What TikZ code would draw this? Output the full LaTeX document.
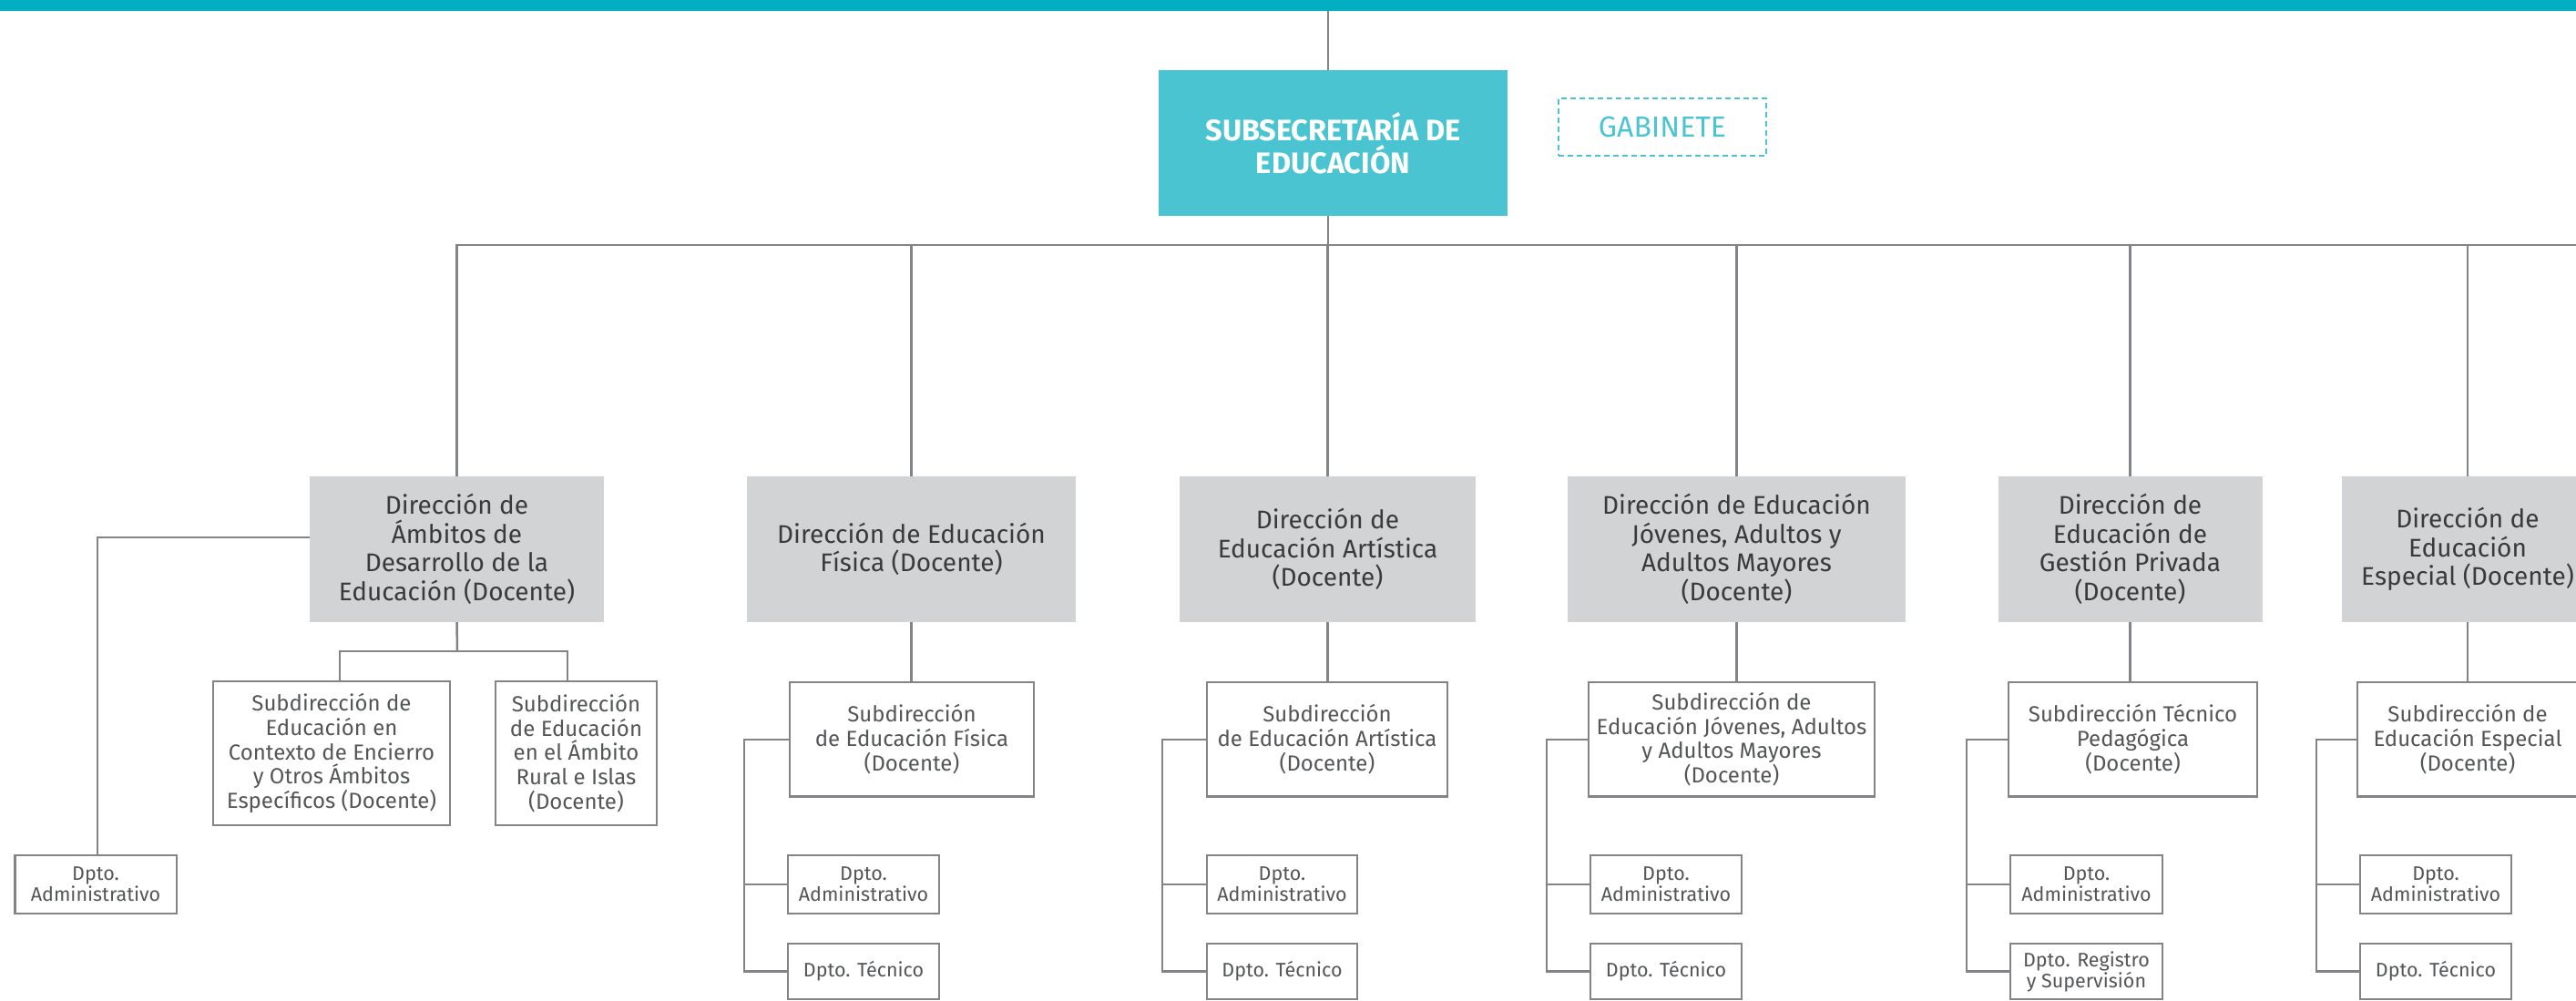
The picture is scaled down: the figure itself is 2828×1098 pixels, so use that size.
\documentclass[tikz,border=0pt]{standalone}
\usepackage{fontspec}
\setmainfont{Fira Sans}
\definecolor{barteal}{HTML}{00AFC2}
\definecolor{boxteal}{HTML}{4BC4D1}
\definecolor{boxgray}{HTML}{D1D3D4}
\definecolor{linegray}{HTML}{838487}
\definecolor{txtdark}{HTML}{3A3A3C}
\definecolor{txtmid}{HTML}{545557}
\tikzset{
  sz/.style 2 args={minimum width=#1pt, minimum height=#2pt},
  conn/.style={draw=linegray, line width=2.5pt},
  barnode/.style={fill=barteal, inner sep=0pt},
  subsec/.style={fill=boxteal, inner sep=0pt, align=center, text=white, font=\fontsize{32.5}{36}\selectfont\bfseries},
  gab/.style={draw=boxteal, line width=2pt, dash pattern=on 6pt off 4pt, inner sep=0pt, text=boxteal, font=\fontsize{32}{36}\selectfont},
  dirbox/.style={fill=boxgray, inner sep=0pt, align=center, text=txtdark, font=\fontsize{28}{31.6}\selectfont},
  subbox/.style={draw=linegray, line width=2.5pt, fill=white, inner sep=0pt, align=center, text=txtmid, font=\fontsize{24}{26.7}\selectfont},
  dptobox/.style={draw=linegray, line width=2.5pt, fill=white, inner sep=0pt, align=center, text=txtmid, font=\fontsize{21.5}{23}\selectfont},
}
\begin{document}
\begin{tikzpicture}[x=1pt, y=-1pt]
\useasboundingbox (0,0) rectangle (2828,1098);
% top
\node[barnode, anchor=north west, sz={2828}{12}] (bar) at (0,0) {};
\node[subsec, sz={383}{160}] (ss) at (1463.5,157) {SUBSECRETARÍA DE\\EDUCACIÓN};
\node[gab, sz={228}{63}] (gab) at (1825,139.5) {GABINETE};
\coordinate (mainx) at (1458,0);
\coordinate (busL) at (500,269);
\coordinate (busR) at (2828,269);
\draw[conn] (bar.south -| mainx) -- (ss.north -| mainx);
\draw[conn] (ss.south -| mainx) -- (busL -| mainx);
\draw[conn] (busL) -- (busR);
% direcciones
\node[dirbox, sz={323}{160}] (d1) at (501.5,603) {Dirección de\\Ámbitos de\\Desarrollo de la\\Educación (Docente)};
\node[dirbox, sz={361}{160}] (d2) at (1000.5,603) {Dirección de Educación\\Física (Docente)};
\node[dirbox, sz={325}{160}] (d3) at (1457.5,603) {Dirección de\\Educación Artística\\(Docente)};
\node[dirbox, sz={371}{160}] (d4) at (1906.5,603) {Dirección de Educación\\Jóvenes, Adultos y\\Adultos Mayores\\(Docente)};
\node[dirbox, sz={290}{160}] (d5) at (2338.5,603) {Dirección de\\Educación de\\Gestión Privada\\(Docente)};
\node[dirbox, sz={276}{160}] (d6) at (2709,603) {Dirección de\\Educación\\Especial (Docente)};
\foreach \d in {d1,d2,d3,d4,d5,d6}{
  \draw[conn] (\d.north) -- (\d.north |- busL);
}
% subdirecciones
\node[subbox, sz={260}{158}] (s1a) at (364,827) {Subdirección de\\Educación en\\Contexto de Encierro\\y Otros Ámbitos\\Específicos (Docente)};
\node[subbox, sz={177}{158}] (s1b) at (632.5,827) {Subdirección\\de Educación\\en el Ámbito\\Rural e Islas\\(Docente)};
\node[subbox, sz={268}{125.5}] (s2) at (1001,811.75) {Subdirección\\de Educación Física\\(Docente)};
\node[subbox, sz={264}{125.5}] (s3) at (1457,811.75) {Subdirección\\de Educación Artística\\(Docente)};
\node[subbox, sz={314}{125.5}] (s4) at (1901,811.75) {Subdirección de\\Educación Jóvenes, Adultos\\y Adultos Mayores\\(Docente)};
\node[subbox, sz={273}{125.5}] (s5) at (2341.5,811.75) {Subdirección Técnico\\Pedagógica\\(Docente)};
\node[subbox, sz={242}{125.5}] (s6) at (2709,811.75) {Subdirección de\\Educación Especial\\(Docente)};
\coordinate (j1) at (502,715);
\draw[conn] (d1.south) -- (j1);
\draw[conn] ([xshift=9pt]s1a.north) |- (j1) -| ([xshift=-9.5pt]s1b.north);
\foreach \i in {2,3,4,5,6}{
  \draw[conn] (d\i.south) -- (d\i.south |- s\i.north);
}
% departamentos
\node[dptobox, sz={177.5}{64}] (a1) at (105,971) {Dpto.\\Administrativo};
\draw[conn] ([yshift=13pt]d1.west) -| ([xshift=2pt]a1.north);
\node[dptobox, sz={166}{64}] (a2) at (948,971) {Dpto.\\Administrativo};
\node[dptobox, sz={166}{61}] (t2) at (948,1066.5) {Dpto. Técnico};
\node[dptobox, sz={165}{64}] (a3) at (1407.5,971) {Dpto.\\Administrativo};
\node[dptobox, sz={165}{61}] (t3) at (1407.5,1066.5) {Dpto. Técnico};
\node[dptobox, sz={166}{64}] (a4) at (1829,971) {Dpto.\\Administrativo};
\node[dptobox, sz={166}{61}] (t4) at (1829,1066.5) {Dpto. Técnico};
\node[dptobox, sz={167}{64}] (a5) at (2290.5,971) {Dpto.\\Administrativo};
\node[dptobox, sz={167}{61}] (t5) at (2290.5,1066.5) {Dpto. Registro\\y Supervisión};
\node[dptobox, sz={166}{64}] (a6) at (2674,971) {Dpto.\\Administrativo};
\node[dptobox, sz={166}{61}] (t6) at (2674,1066.5) {Dpto. Técnico};
\coordinate (b2) at (817,0);
\coordinate (b3) at (1276,0);
\coordinate (b4) at (1698,0);
\coordinate (b5) at (2159,0);
\coordinate (b6) at (2543,0);
\foreach \i in {2,3,4,5,6}{
  \draw[conn] (s\i.west) -- (s\i.west -| b\i) |- (t\i.west);
  \draw[conn] (a\i.west -| b\i) -- (a\i.west);
}
\end{tikzpicture}
\end{document}
